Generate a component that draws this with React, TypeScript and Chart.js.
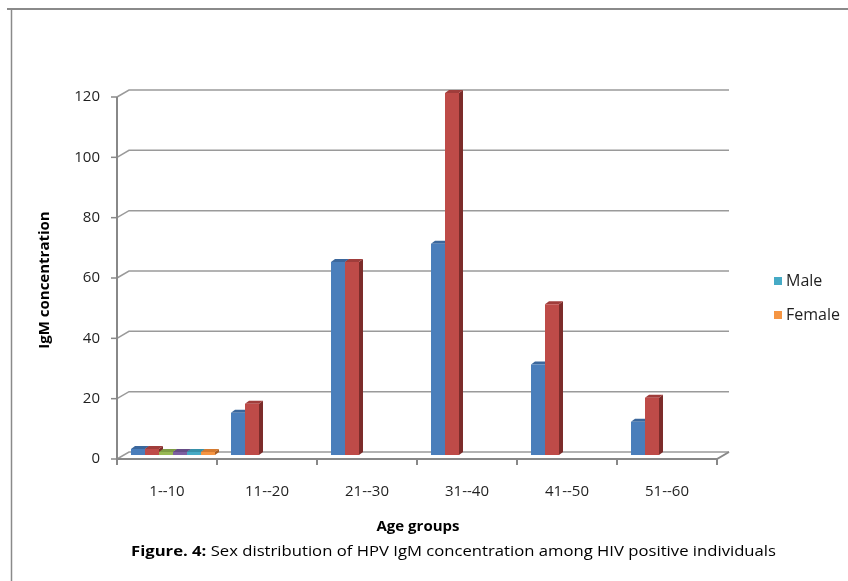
import React, { useEffect, useRef } from "react";
import { Chart, registerables } from "chart.js";

Chart.register(...registerables);

const categories = ["1--10", "11--20", "21--30", "31--40", "41--50", "51--60"];
const seriesNames = ["Series1", "Series2", "Series3", "Series4", "Male", "Female"];
const series1Values = [2, 14, 64, 70, 30, 11];
const series2Values = [2, 17, 64, 120, 50, 19];
const series3Values = [1, 0, 0, 0, 0, 0];
const series4Values = [1, 0, 0, 0, 0, 0];
const maleValues = [1, 0, 0, 0, 0, 0];
const femaleValues = [1, 0, 0, 0, 0, 0];
const yTickValues = [0, 20, 40, 60, 80, 100, 120];
const legendSeries = [4, 5];

const xTitle = "Age groups";
const yTitle = "IgM concentration";
const captionBold = "Figure. 4:";
const captionRest = " Sex distribution of HPV IgM concentration among HIV positive individuals";

const frontColors = ["#4A7EBB", "#BE4B48", "#98B954", "#7D60A0", "#46AAC5", "#F59543"];
const topColors = ["#3B679C", "#A03D3B", "#7E9C44", "#654C85", "#3690A8", "#D47A30"];
const sideColors = ["#2D4F7A", "#7C2C2A", "#617A33", "#4C3866", "#2A6F82", "#A85E24"];

const FONT = "'Open Sans', Lato, 'Liberation Sans', sans-serif";

// 3D geometry
const FRONT_DX = -6, FRONT_DY = 4;
const BACK_DX = 6, BACK_DY = -3;
const BAR_DX = 4, BAR_DY = 3;

const threeDPlugin = {
  id: "threeD",
  beforeDraw(chart: any) {
    const ctx = chart.ctx;
    ctx.save();
    ctx.fillStyle = "#ffffff";
    ctx.fillRect(0, 0, chart.width, chart.height);
    ctx.strokeStyle = "#8a8a8a";
    ctx.lineWidth = 2;
    ctx.beginPath();
    ctx.moveTo(7, 9);
    ctx.lineTo(chart.width, 9);
    ctx.stroke();
    ctx.lineWidth = 1.5;
    ctx.beginPath();
    ctx.moveTo(11.5, 9);
    ctx.lineTo(11.5, chart.height);
    ctx.stroke();
    ctx.restore();
  },
  beforeDatasetsDraw(chart: any) {
    const ctx = chart.ctx;
    const xs = chart.scales.x;
    const ys = chart.scales.y;
    const left = chart.chartArea.left;
    const right = chart.chartArea.right;
    ctx.save();
    ctx.lineWidth = 1.5;
    yTickValues.forEach((v) => {
      const y = ys.getPixelForValue(v);
      ctx.strokeStyle = "#9a9a9a";
      ctx.beginPath();
      ctx.moveTo(left + FRONT_DX, y + FRONT_DY);
      ctx.lineTo(left + BACK_DX, y + BACK_DY);
      ctx.lineTo(right + BACK_DX, y + BACK_DY);
      ctx.stroke();
      ctx.strokeStyle = "#888888";
      ctx.beginPath();
      ctx.moveTo(left + FRONT_DX - 6, y + FRONT_DY);
      ctx.lineTo(left + FRONT_DX, y + FRONT_DY);
      ctx.stroke();
      ctx.fillStyle = "#1f1f1f";
      ctx.font = `15px ${FONT}`;
      ctx.textAlign = "right";
      ctx.textBaseline = "middle";
      ctx.fillText(String(v), left + FRONT_DX - 17, y + FRONT_DY);
    });
    const y0 = ys.getPixelForValue(0);
    const yTop = ys.getPixelForValue(yTickValues[yTickValues.length - 1]);
    ctx.strokeStyle = "#888888";
    ctx.lineWidth = 2;
    ctx.beginPath();
    ctx.moveTo(left + FRONT_DX, yTop + FRONT_DY);
    ctx.lineTo(left + FRONT_DX, y0 + FRONT_DY);
    ctx.lineTo(right + FRONT_DX, y0 + FRONT_DY);
    ctx.lineTo(right + BACK_DX, y0 + BACK_DY);
    ctx.stroke();
    const n = categories.length;
    const catW = (right - left) / n;
    for (let i = 0; i <= n; i++) {
      const x = left + FRONT_DX + i * catW;
      ctx.beginPath();
      ctx.moveTo(x, y0 + FRONT_DY);
      ctx.lineTo(x, y0 + FRONT_DY + 6);
      ctx.stroke();
    }
    ctx.fillStyle = "#1f1f1f";
    ctx.font = `15px ${FONT}`;
    ctx.textAlign = "center";
    ctx.textBaseline = "middle";
    categories.forEach((c, i) => {
      ctx.fillText(c, xs.getPixelForValue(i) + FRONT_DX, y0 + FRONT_DY + 33);
    });
    ctx.fillStyle = "#000000";
    ctx.font = `bold 15px ${FONT}`;
    ctx.fillText(xTitle, 418, 527);
    ctx.save();
    ctx.translate(45, 280);
    ctx.rotate(-Math.PI / 2);
    ctx.fillText(yTitle, 0, 0);
    ctx.restore();
    ctx.textAlign = "left";
    const capSize = 15;
    ctx.font = `bold ${capSize}px ${FONT}`;
    const bw = ctx.measureText(captionBold).width;
    ctx.font = `${capSize}px ${FONT}`;
    const rw = ctx.measureText(captionRest).width;
    const target = 645;
    const scaleX = target / (bw + rw);
    ctx.save();
    ctx.translate(131, 552);
    ctx.scale(scaleX, 1);
    ctx.font = `bold ${capSize}px ${FONT}`;
    ctx.fillText(captionBold, 0, 0);
    ctx.font = `${capSize}px ${FONT}`;
    ctx.fillText(captionRest, bw, 0);
    ctx.restore();
    legendSeries.forEach((si, k) => {
      const ly = 281 + k * 34;
      ctx.fillStyle = frontColors[si];
      ctx.fillRect(774, ly - 4, 8, 8);
      ctx.fillStyle = "#1f1f1f";
      ctx.font = `16px ${FONT}`;
      ctx.textAlign = "left";
      ctx.fillText(seriesNames[si], 786, ly);
    });
    chart.data.datasets.forEach((ds: any, di: number) => {
      const meta = chart.getDatasetMeta(di);
      meta.data.forEach((el: any, i: number) => {
        if (!ds.data[i]) return;
        const p = el.getProps(["x", "y", "base", "width"], true);
        const l = p.x - p.width / 2;
        const r = p.x + p.width / 2;
        ctx.fillStyle = sideColors[di];
        ctx.beginPath();
        ctx.moveTo(r, p.y);
        ctx.lineTo(r + BAR_DX, p.y - BAR_DY);
        ctx.lineTo(r + BAR_DX, p.base - BAR_DY);
        ctx.lineTo(r, p.base);
        ctx.closePath();
        ctx.fill();
        ctx.fillStyle = topColors[di];
        ctx.beginPath();
        ctx.moveTo(l, p.y);
        ctx.lineTo(l + BAR_DX, p.y - BAR_DY);
        ctx.lineTo(r + BAR_DX, p.y - BAR_DY);
        ctx.lineTo(r, p.y);
        ctx.closePath();
        ctx.fill();
      });
    });
    ctx.restore();
  },
};

export default function App() {
  const ref = useRef<HTMLCanvasElement | null>(null);
  useEffect(() => {
    if (!ref.current) return;
    const allValues = [series1Values, series2Values, series3Values, series4Values, maleValues, femaleValues];
    const chart = new Chart(ref.current, {
      type: "bar",
      data: {
        labels: categories,
        datasets: allValues.map((vals, i) => ({
          label: seriesNames[i],
          data: vals,
          backgroundColor: frontColors[i],
          borderWidth: 0,
          categoryPercentage: 0.84,
          barPercentage: 1,
        })),
      },
      options: {
        responsive: false,
        animation: false,
        events: [],
        layout: { padding: { left: 123, right: 125, top: 93, bottom: 126 } },
        plugins: { legend: { display: false }, tooltip: { enabled: false }, title: { display: false } },
        scales: {
          x: { display: false, offset: true },
          y: { display: false, min: 0, max: 120 },
        },
      },
      plugins: [threeDPlugin],
    });
    return () => chart.destroy();
  }, []);
  return (
    <div style={{ position: "fixed", left: 0, top: 0, width: 848, height: 581 }}>
      <canvas ref={ref} width={848} height={581} style={{ width: 848, height: 581 }} />
    </div>
  );
}
